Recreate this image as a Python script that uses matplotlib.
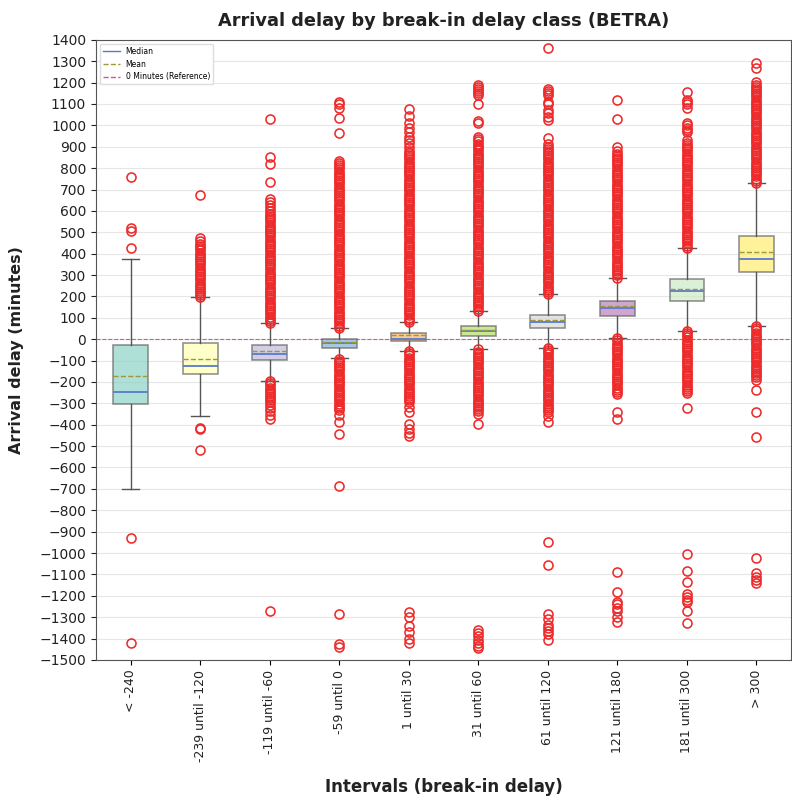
import matplotlib
matplotlib.use("Agg")
import matplotlib.pyplot as plt
from matplotlib.lines import Line2D

# break-in delay classes
klassen = ["< -240", "-239 until -120", "-119 until -60", "-59 until 0", "1 until 30",
           "31 until 60", "61 until 120", "121 until 180", "181 until 300", "> 300"]

# box statistics (minutes)
q1 = [-302, -162, -96, -40, -8, 15, 52, 109, 179, 315]
median = [-246, -125, -68, -18, 3, 38, 80, 146, 226, 376]
q3 = [-27, -18, -27, 0, 30, 62, 113, 179, 282, 483]
mittel = [-172, -92, -54, -12, 20, 43, 89, 155, 236, 408]
whis_lo = [-700, -357, -195, -90, -55, -47, -40, 5, 39, 62]
whis_hi = [375, 195, 76, 52, 80, 132, 210, 287, 427, 730]

# outliers per class (the dense red columns read as closely spaced values)
ausreisser = [
    [760, 520, 505, 425, -930, -1420],
    [195, 205, 215, 225, 235, 245, 255, 265, 275, 285, 295, 305, 315, 325, 335, 345, 355,
     365, 375, 385, 395, 405, 415, 425, 435, 445, 458, 475, 675,
     -415, -422, -520],
    [76, 86, 96, 106, 116, 126, 136, 146, 156, 166, 176, 186, 196, 206, 216, 226, 236, 246,
     256, 266, 276, 286, 296, 306, 316, 326, 336, 346, 356, 366, 376, 386, 396, 406, 416,
     426, 436, 446, 456, 466, 476, 486, 496, 506, 516, 526, 536, 546, 556, 566, 576, 586,
     598, 612, 626, 642, 658, 736, 820, 853, 1028,
     -196, -206, -216, -226, -236, -246, -256, -266, -276, -286, -296, -308, -322, -338,
     -356, -372, -1272],
    [54, 64, 74, 84, 94, 104, 114, 124, 134, 144, 154, 164, 174, 184, 194, 204, 214, 224,
     234, 244, 254, 264, 274, 284, 294, 304, 314, 324, 334, 344, 354, 364, 374, 384, 394,
     404, 414, 424, 434, 444, 454, 464, 474, 484, 494, 504, 514, 524, 534, 544, 554, 564,
     574, 584, 594, 604, 614, 624, 634, 644, 654, 664, 674, 684, 694, 704, 714, 724, 734,
     744, 754, 764, 774, 784, 794, 804, 814, 824, 834, 965, 1035, 1082, 1100, 1110,
     -91, -101, -111, -121, -131, -141, -151, -161, -171, -181, -191, -201, -211, -221,
     -231, -241, -251, -261, -271, -281, -291, -301, -311, -321, -331, -355, -387, -443,
     -685, -1285, -1425, -1440],
    [81, 91, 101, 111, 121, 131, 141, 151, 161, 171, 181, 191, 201, 211, 221, 231, 241,
     251, 261, 271, 281, 291, 301, 311, 321, 331, 341, 351, 361, 371, 381, 391, 401, 411,
     421, 431, 441, 451, 461, 471, 481, 491, 501, 511, 521, 531, 541, 551, 561, 571, 581,
     591, 601, 611, 621, 631, 641, 651, 661, 671, 681, 691, 701, 711, 721, 731, 741, 751,
     761, 771, 781, 791, 801, 811, 821, 831, 841, 851, 861, 871, 881, 900, 916, 931, 946,
     970, 990, 1012, 1045, 1077,
     -56, -66, -76, -86, -96, -106, -116, -126, -136, -146, -156, -166, -176, -186, -196,
     -206, -216, -226, -236, -246, -256, -266, -276, -286, -296, -315, -340, -395, -420,
     -440, -455, -1275, -1300, -1340, -1370, -1400, -1420],
    [133, 143, 153, 163, 173, 183, 193, 203, 213, 223, 233, 243, 253, 263, 273, 283, 293,
     303, 313, 323, 333, 343, 353, 363, 373, 383, 393, 403, 413, 423, 433, 443, 453, 463,
     473, 483, 493, 503, 513, 523, 533, 543, 553, 563, 573, 583, 593, 603, 613, 623, 633,
     643, 653, 663, 673, 683, 693, 703, 713, 723, 733, 743, 753, 763, 773, 783, 793, 803,
     813, 823, 833, 843, 853, 863, 873, 883, 893, 903, 913, 925, 935, 946, 1010, 1021,
     1100, 1140, 1150, 1160, 1170, 1180, 1190,
     -48, -58, -68, -78, -88, -98, -108, -118, -128, -138, -148, -158, -168, -178, -188,
     -198, -208, -218, -228, -238, -248, -258, -268, -278, -288, -298, -308, -318, -328,
     -338, -348, -397, -1360, -1375, -1390, -1405, -1420, -1435, -1444],
    [211, 221, 231, 241, 251, 261, 271, 281, 291, 301, 311, 321, 331, 341, 351, 361, 371,
     381, 391, 401, 411, 421, 431, 441, 451, 461, 471, 481, 491, 501, 511, 521, 531, 541,
     551, 561, 571, 581, 591, 601, 611, 621, 631, 641, 651, 661, 671, 681, 691, 701, 711,
     721, 731, 741, 751, 761, 771, 781, 791, 801, 811, 821, 831, 841, 851, 861, 871, 881,
     891, 901, 911, 942, 1025, 1040, 1060, 1070, 1100, 1110, 1140, 1150, 1160, 1171, 1362,
     -41, -51, -61, -71, -81, -91, -101, -111, -121, -131, -141, -151, -161, -171, -181,
     -191, -201, -211, -221, -231, -241, -251, -261, -271, -281, -291, -301, -311, -321,
     -331, -341, -360, -385, -950, -1058, -1285, -1310, -1335, -1350, -1365, -1380, -1406],
    [288, 298, 308, 318, 328, 338, 348, 358, 368, 378, 388, 398, 408, 418, 428, 438, 448,
     458, 468, 478, 488, 498, 508, 518, 528, 538, 548, 558, 568, 578, 588, 598, 608, 618,
     628, 638, 648, 658, 668, 678, 688, 698, 708, 718, 728, 738, 748, 758, 768, 778, 788,
     798, 808, 818, 828, 838, 848, 858, 868, 878, 900, 1031, 1119,
     4, -6, -16, -26, -36, -46, -56, -66, -76, -86, -96, -106, -116, -126, -136, -146, -156,
     -166, -176, -186, -196, -206, -216, -226, -236, -246, -256, -340, -373, -1088, -1182,
     -1228, -1240, -1257, -1270, -1298, -1322],
    [428, 438, 448, 458, 468, 478, 488, 498, 508, 518, 528, 538, 548, 558, 568, 578, 588,
     598, 608, 618, 628, 638, 648, 658, 668, 678, 688, 698, 708, 718, 728, 738, 748, 758,
     768, 778, 788, 798, 808, 818, 828, 838, 848, 858, 868, 878, 888, 898, 908, 918, 932,
     970, 980, 990, 1000, 1010, 1080, 1100, 1110, 1120, 1157,
     38, 28, 18, 8, -2, -12, -22, -32, -42, -52, -62, -72, -82, -92, -102, -112, -122,
     -132, -142, -152, -162, -172, -182, -192, -202, -212, -222, -232, -242, -252, -320,
     -1004, -1084, -1135, -1191, -1205, -1218, -1228, -1270, -1327],
    [731, 741, 751, 761, 771, 781, 791, 801, 811, 821, 831, 841, 851, 861, 871, 881, 891,
     901, 911, 921, 931, 941, 951, 961, 971, 981, 991, 1001, 1011, 1021, 1031, 1041, 1051,
     1061, 1071, 1081, 1091, 1101, 1111, 1121, 1131, 1141, 1151, 1161, 1171, 1181, 1191,
     1201, 1269, 1292,
     61, 51, 41, 31, 21, 11, 1, -9, -19, -29, -39, -49, -59, -69, -79, -89, -99, -109,
     -119, -129, -139, -149, -159, -169, -179, -189, -237, -340, -457, -1023, -1093,
     -1110, -1125, -1140],
]

farben = ["#8dd3c7", "#ffffb3", "#bebada", "#80b1d3", "#fdb462",
          "#b3de69", "#d9d9d9", "#bc80bd", "#ccebc5", "#ffed6f"]

stats = []
for i, name in enumerate(klassen):
    stats.append({"label": name, "q1": q1[i], "med": median[i], "q3": q3[i],
                  "mean": mittel[i], "whislo": whis_lo[i], "whishi": whis_hi[i],
                  "fliers": ausreisser[i]})

fig, ax = plt.subplots(figsize=(7.92, 7.97), dpi=100)
fig.subplots_adjust(left=0.121, right=0.999, top=0.950, bottom=0.172)

ax.yaxis.grid(True, color="#e6e6e6", linewidth=0.8, zorder=0)
ax.set_axisbelow(True)

ax.axhline(0, color="#cc5c99", linestyle="--", linewidth=0.8, zorder=1.5)

bp = ax.bxp(stats, positions=range(len(klassen)), widths=0.5, patch_artist=True,
            showmeans=True, meanline=True,
            boxprops=dict(edgecolor="#666666", linewidth=1.2),
            whiskerprops=dict(color="#555555", linewidth=1.0),
            capprops=dict(color="#555555", linewidth=1.0),
            medianprops=dict(color="#5b78d0", linewidth=1.3),
            meanprops=dict(color="#9a9a3a", linestyle="--", linewidth=1.0),
            flierprops=dict(marker="o", markersize=6.5, markerfacecolor="none",
                            markeredgecolor="#ee2a2a", markeredgewidth=1.15))
for patch, c in zip(bp["boxes"], farben):
    patch.set_facecolor(c)
    patch.set_alpha(0.7)

ax.set_xlim(-0.5, len(klassen) - 0.5)
ax.set_ylim(-1500, 1400)
ax.set_yticks(range(-1500, 1401, 100))
ax.set_xticks(range(len(klassen)))
ax.set_xticklabels(klassen, rotation=90, fontsize=9, color="#222222")
ax.tick_params(axis="y", labelsize=10, colors="#222222")
for s in ax.spines.values():
    s.set_color("#555555")

ax.set_title("Arrival delay by break-in delay class (BETRA)", fontsize=12.8,
             fontweight="bold", color="#222222", pad=10)
ax.set_xlabel("Intervals (break-in delay)", fontsize=12, fontweight="bold",
              color="#222222", labelpad=12)
ax.set_ylabel("Arrival delay (minutes)", fontsize=11.5, fontweight="bold",
              color="#222222", labelpad=11)

handles = [Line2D([], [], color="#5b78d0", linewidth=1.0, label="Median"),
           Line2D([], [], color="#9a9a3a", linestyle="--", linewidth=1.0, label="Mean"),
           Line2D([], [], color="#cc5c99", linestyle="--", linewidth=1.0,
                  label="0 Minutes (Reference)")]
ax.legend(handles=handles, loc="upper left", fontsize=5.5, framealpha=1,
          edgecolor="#dddddd", handlelength=2.2)

plt.savefig("out.png", dpi=100)
